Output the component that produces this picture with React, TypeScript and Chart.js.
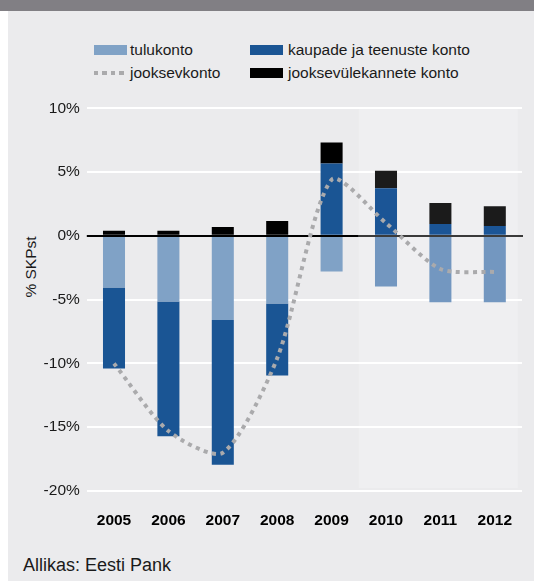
import React, { useEffect, useRef } from "react";
import { Chart, registerables } from "chart.js";

Chart.register(...registerables);

const categories = ["2005", "2006", "2007", "2008", "2009", "2010", "2011", "2012"];
const tulukonto = [-4.05, -5.15, -6.6, -5.3, -2.8, -3.97, -5.2, -5.2];
const kaupadeJaTeenuste = [-6.35, -10.55, -11.35, -5.65, 5.68, 3.73, 0.93, 0.78];
const jooksevulekanded = [0.4, 0.4, 0.7, 1.17, 1.63, 1.38, 1.64, 1.55];
const jooksevkonto = [-10.0, -15.3, -17.0, -9.6, 4.4, 1.0, -2.6, -2.83];
const forecastStart = 5;
const yTicks = [-20, -15, -10, -5, 0, 5, 10];

const FONT = '"Liberation Sans", Arial, Helvetica, sans-serif';
const BG = "#ebebed";
const SHADE = "#efeff1";

const colorsFor = (base: string, fc: string) =>
  categories.map((_, i) => (i >= forecastStart ? fc : base));

const forecastPlugin = {
  id: "forecast",
  beforeDraw(chart: any) {
    const { ctx, scales } = chart;
    const x = scales.x;
    const y = scales.y;
    const left = (x.getPixelForValue(forecastStart - 1) + x.getPixelForValue(forecastStart)) / 2;
    const right = x.getPixelForValue(categories.length - 1) + 23;
    const top = y.getPixelForValue(10) + 1;
    const bottom = y.getPixelForValue(-20) - 3;
    ctx.save();
    ctx.fillStyle = SHADE;
    ctx.fillRect(left, top, right - left, bottom - top);
    ctx.restore();
  },
  beforeDatasetDraw(chart: any, args: any) {
    if (args.index !== 3) return;
    const { ctx, scales, chartArea } = chart;
    const x = scales.x;
    const y0 = Math.round(scales.y.getPixelForValue(0));
    const mid = (x.getPixelForValue(forecastStart - 1) + x.getPixelForValue(forecastStart)) / 2;
    ctx.save();
    ctx.lineWidth = 2;
    ctx.strokeStyle = "#000000";
    ctx.beginPath();
    ctx.moveTo(chartArea.left, y0);
    ctx.lineTo(mid, y0);
    ctx.stroke();
    ctx.strokeStyle = "#3a3a3a";
    ctx.beginPath();
    ctx.moveTo(mid, y0);
    ctx.lineTo(chartArea.right + 1, y0);
    ctx.stroke();
    ctx.restore();
  },
};

function ChartBox() {
  const ref = useRef<HTMLCanvasElement | null>(null);
  useEffect(() => {
    if (!ref.current) return;
    const chart = new Chart(ref.current, {
      type: "bar",
      data: {
        labels: categories,
        datasets: [
          {
            type: "bar",
            label: "tulukonto",
            data: tulukonto,
            backgroundColor: colorsFor("#80a2c6", "#7397c0"),
            stack: "s",
            order: 1,
            barPercentage: 1,
            categoryPercentage: 0.405,
          },
          {
            type: "bar",
            label: "kaupade ja teenuste konto",
            data: kaupadeJaTeenuste,
            backgroundColor: colorsFor("#1a5594", "#1b5596"),
            stack: "s",
            order: 1,
            barPercentage: 1,
            categoryPercentage: 0.405,
          },
          {
            type: "bar",
            label: "jooksevülekannete konto",
            data: jooksevulekanded,
            backgroundColor: colorsFor("#000000", "#1b1b1b"),
            stack: "s",
            order: 1,
            barPercentage: 1,
            categoryPercentage: 0.405,
          },
          {
            type: "line",
            label: "jooksevkonto",
            data: jooksevkonto,
            borderColor: "#aaaaac",
            borderWidth: 4,
            borderDash: [4, 4.5],
            borderCapStyle: "butt",
            pointRadius: 0,
            tension: 0.25,
            fill: false,
            stack: "line",
            order: 0,
          } as any,
        ],
      },
      options: {
        animation: false,
        responsive: false,
        maintainAspectRatio: false,
        layout: { padding: { top: 8, right: 12, left: 0, bottom: 0 } },
        plugins: {
          legend: { display: false },
          tooltip: { enabled: false },
        },
        scales: {
          x: {
            stacked: true,
            grid: { display: false, drawTicks: false },
            border: { display: false },
            ticks: {
              color: "#000",
              padding: 20,
              font: { family: FONT, size: 15.5, weight: "bold" },
            },
            afterFit: (s: any) => {
              s.height = 49;
            },
          },
          y: {
            stacked: true,
            min: -20,
            max: 10,
            afterBuildTicks: (s: any) => {
              s.ticks = yTicks.map((v) => ({ value: v }));
            },
            grid: {
              drawTicks: false,
              lineWidth: 2,
              color: (c: any) => (c.tick && c.tick.value === 0 ? "rgba(0,0,0,0)" : "#ffffff"),
            },
            border: { display: false },
            ticks: {
              color: "#1a1a1a",
              padding: 7,
              font: { family: FONT, size: 15.5 },
              callback: (v: any) => `${v}%`,
            },
            afterFit: (s: any) => {
              s.width = 78.8;
            },
          },
        },
      },
      plugins: [forecastPlugin],
    } as any);
    return () => chart.destroy();
  }, []);
  return (
    <canvas
      ref={ref}
      width={526}
      height={448}
      style={{ position: "absolute", left: 8, top: 92, width: 526, height: 448 }}
    />
  );
}

const textStyle: React.CSSProperties = {
  position: "absolute",
  fontFamily: FONT,
  fontSize: 15.5,
  color: "#1a1a1a",
  lineHeight: "18px",
  whiteSpace: "nowrap",
};

export default function App() {
  return (
    <div
      style={{
        position: "absolute",
        left: 0,
        top: 0,
        width: 534,
        height: 583,
        background: "#ffffff",
        overflow: "hidden",
      }}
    >
      <div style={{ position: "absolute", left: 0, top: 0, width: 534, height: 10.5, background: "#817f84" }} />
      <div style={{ position: "absolute", left: 8, top: 10.5, width: 526, height: 570.5, background: BG }} />
      <div style={{ position: "absolute", left: 94, top: 45, width: 33, height: 10, background: "#80a2c6" }} />
      <div style={{ ...textStyle, left: 130, top: 40.5 }}>tulukonto</div>
      <div style={{ position: "absolute", left: 250, top: 45, width: 33, height: 10, background: "#1a5594" }} />
      <div style={{ ...textStyle, left: 288, top: 40.5 }}>kaupade ja teenuste konto</div>
      <div
        style={{
          position: "absolute",
          left: 94,
          top: 71,
          width: 33,
          height: 4,
          background: "repeating-linear-gradient(90deg, #aaaaac 0px, #aaaaac 4px, transparent 4px, transparent 8.5px)",
        }}
      />
      <div style={{ ...textStyle, left: 130, top: 64 }}>jooksevkonto</div>
      <div style={{ position: "absolute", left: 250, top: 68, width: 33, height: 10, background: "#000000" }} />
      <div style={{ ...textStyle, left: 288, top: 64 }}>jooksevülekannete konto</div>
      <div
        style={{
          ...textStyle,
          left: 31,
          top: 267,
          transform: "translate(-50%, -50%) rotate(-90deg)",
        }}
      >
        % SKPst
      </div>
      <ChartBox />
      <div style={{ ...textStyle, fontSize: 18, lineHeight: "22px", left: 23, top: 554 }}>Allikas: Eesti Pank</div>
    </div>
  );
}
